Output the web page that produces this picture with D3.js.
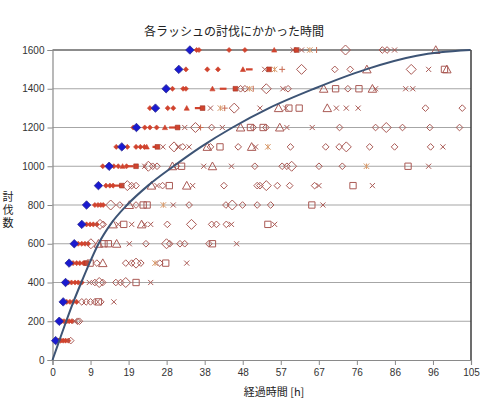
<!DOCTYPE html>
<html><head><meta charset="utf-8">
<script src="https://cdn.jsdelivr.net/npm/d3@7"></script>
<style>body{margin:0;background:#fff}svg{display:block}</style>
</head><body><svg id="c" width="480" height="407"></svg>
<script>
// ---------- data ----------
const chartTitle = "各ラッシュの討伐にかかった時間";
const xTitle = "経過時間 [h]";
const yTitle = "討伐数";
const xMax = 105.7;
const xTickLabels = ["0","9","19","28","38","48","57","67","76","86","96","105"];
const yTicks = [0,200,400,600,800,1000,1200,1400,1600];

const levels = [1600,1500,1400,1300,1200,1100,1000,900,800,700,600,500,400,300,200,100];
const hours1600 = [34.7,36.4,37.0,44.6,48.6,56.0,60.8,61.6,62.9,65.0,66.7,74.0,83.3,84.5,86.4,96.8];
const marks1600 = "Bddddtxsx*|DooxT";
const hours1500 = [31.9,33.7,39.1,41.8,48.1,49.7,53.6,54.7,56.1,58.0,62.9,71.3,75.2,79.4,90.6,95.0,99.0,99.6];
const marks1500 = "Bdddtmxs*+DooTDxST";
const hours1400 = [28.7,30.3,33.0,33.7,40.4,43.1,46.2,47.5,48.6,49.8,50.7,54.0,58.2,59.5,68.5,71.5,74.6,77.4,80.8,81.6,89.2,91.0];
const marks1400 = "Bdddtmsoo*|DxoTSoSTxxx";
const hours1300 = [24.6,26.0,29.1,30.5,33.9,36.8,37.9,39.9,42.4,43.5,45.9,52.4,57.1,58.9,59.7,62.3,69.4,71.7,74.2,77.2,94.2,103.5];
const marks1300 = "dBddtmsx*+DxTxSSTxxxoo";
const hours1200 = [20.4,21.2,23.3,24.6,26.3,28.4,30.3,31.6,33.4,36.1,37.4,40.2,42.9,47.5,50.0,50.7,53.2,53.9,57.4,59.2,65.6,72.5,81.6,84.3,88.4,95.3,102.8];
const marks1200 = "dBdddtmsxD+oxTSoSoTxxooDooo";
const hours1100 = [16.1,17.5,18.9,21.1,22.2,23.2,23.8,26.1,26.5,27.9,30.7,31.7,32.9,34.5,39.1,39.9,42.3,46.9,50.3,51.3,54.4,60.1,69.0,72.4,74.2,80.1,86.4,95.5,98.6];
const marks1100 = "dBddddtmsxDxoxToSoTx*oooDooox";
const hours1000 = [12.7,14.3,15.5,16.6,17.7,18.7,19.6,21.1,23.3,24.2,25.3,26.4,30.3,31.3,32.6,38.2,40.4,45.2,51.1,58.0,59.2,60.4,67.3,73.2,79.3,89.8,95.0];
const marks1000 = "dBddtdmsxDooToSxTxoooDoo*Sx";
const hours900 = [11.6,13.5,14.5,15.3,16.6,17.5,18.9,20.0,21.1,25.0,26.4,27.8,29.5,33.9,35.4,43.3,51.7,52.4,54.0,56.8,59.9,66.2,67.3,75.9,80.8];
const marks900 = "BdddmsDooTxoSTxoooDoooxSx";
const hours800 = [8.6,10.7,11.5,12.2,12.8,14.7,17.0,19.4,21.1,22.9,23.9,28.0,30.5,34.5,43.8,45.4,48.0,51.7,55.1,65.5,68.3];
const marks800 = "BddddDoToSS*xooDoooSx";
const hours700 = [7.4,8.6,9.5,10.3,11.2,12.0,12.8,15.3,16.6,18.0,20.0,22.5,23.3,24.8,29.0,35.1,40.2,41.4,43.9,45.2,54.4,56.1];
const marks700 = "BddddDoTxSxTxxoDoooxSx";
const hours600 = [5.5,6.5,7.4,8.2,9.0,9.7,11.6,13.0,14.1,16.2,19.4,23.6,28.8,29.6,32.2,33.4,39.5,40.4,46.5];
const marks600 = "BddddDTSSTxoDooooSx";
const hours500 = [4.2,5.2,6.1,6.9,7.8,8.2,8.6,9.5,11.2,12.7,18.5,20.0,21.1,22.3,25.9,27.1,28.6,33.9];
const marks500 = "BdddddsSoTooDo*oSx";
const hours400 = [3.3,4.0,4.8,5.7,6.5,7.4,9.3,10.7,11.8,12.7,16.0,17.2,18.5,21.1,24.8];
const marks400 = "BdddddxoDoooDSx";
const hours300 = [2.7,3.6,4.4,5.2,6.1,7.4,8.5,9.6,10.7,11.6,12.2,15.5];
const marks300 = "BddddooooSox";
const hours200 = [1.7,2.3,2.9,3.6,4.2,4.9,5.7,6.3,6.8];
const marks200 = "Bdddddxoo";
const hours100 = [0.8,1.5,2.1,2.7,3.3,4.0,4.6];
const marks100 = "Bdddddo";

// reference curve
const curveHours = [0,1.72,3.46,5.28,7.27,9.35,11.62,14.65,18.82,24.12,30.56,37.51,45.46,54.68,66.05,79.18,92.0,97.9,105.5];
const curveKills = [0,100,200,300,400,500,600,700,800,900,1000,1100,1200,1300,1400,1500,1570,1588,1600];

// ---------- build ----------
const rowHours = [hours1600,hours1500,hours1400,hours1300,hours1200,hours1100,hours1000,hours900,hours800,hours700,hours600,hours500,hours400,hours300,hours200,hours100];
const rowMarks = [marks1600,marks1500,marks1400,marks1300,marks1200,marks1100,marks1000,marks900,marks800,marks700,marks600,marks500,marks400,marks300,marks200,marks100];
const points = [];
levels.forEach((lv,i)=>rowHours[i].forEach((h,j)=>points.push({x:h,y:lv,m:rowMarks[i][j]})));

const L=52.5, R=471, T=50, B=360;
const svg = d3.select("#c");
const x = d3.scaleLinear().domain([0,xMax]).range([L,R]);
const y = d3.scaleLinear().domain([0,1600]).range([B,T]);

// gridlines
svg.append("g").selectAll("line").data(yTicks.filter(d=>d>0)).join("line")
  .attr("x1",L).attr("x2",R).attr("y1",d=>y(d)).attr("y2",d=>y(d))
  .attr("stroke", d=>d===1600?"#8c8c8c":"#a6a6a6").attr("stroke-width",d=>d===1600?2:1.2);
// right border
svg.append("line").attr("x1",R).attr("x2",R).attr("y1",T).attr("y2",B)
  .attr("stroke","#3c3c3c").attr("stroke-width",1.5);

// axes
const xTickVals = xTickLabels.map((_,i)=>i*xMax/11);
const xAxis = d3.axisBottom(x).tickValues(xTickVals).tickSize(5).tickPadding(4)
  .tickFormat((d,i)=>xTickLabels[i]);
const gx = svg.append("g").attr("transform",`translate(0,${B})`).call(xAxis);
const yAxis = d3.axisLeft(y).tickValues(yTicks).tickSize(5).tickPadding(3).tickFormat(d3.format("d"));
const gy = svg.append("g").attr("transform",`translate(${L},0)`).call(yAxis);
[gx,gy].forEach(g=>{
  g.select(".domain").attr("stroke","#8a8a8a").attr("stroke-width",1.2);
  g.selectAll(".tick line").attr("stroke","#8a8a8a");
  g.selectAll("text").attr("fill","#333").style("font-family","Liberation Sans, Arial, sans-serif").style("font-size","10px");
});

// markers
const red="#d0432e", hol="#aa5a55";
const diamondType = {draw(ctx,size){const r=Math.sqrt(size)/2*Math.SQRT2; ctx.moveTo(0,-r);ctx.lineTo(r,0);ctx.lineTo(0,r);ctx.lineTo(-r,0);ctx.closePath();}};
const triType = {draw(ctx,size){const s=Math.sqrt(size); ctx.moveTo(0,-s*0.55);ctx.lineTo(s*0.55,s*0.45);ctx.lineTo(-s*0.55,s*0.45);ctx.closePath();}};
const xType = {draw(ctx,size){const r=Math.sqrt(size)/2; ctx.moveTo(-r,-r);ctx.lineTo(r,r);ctx.moveTo(r,-r);ctx.lineTo(-r,r);}};
const plusType = {draw(ctx,size){const r=Math.sqrt(size)/2; ctx.moveTo(0,-r);ctx.lineTo(0,r);ctx.moveTo(-r,0);ctx.lineTo(r,0);}};
const starType = {draw(ctx,size){const r=Math.sqrt(size)/2; ctx.moveTo(-r,-r);ctx.lineTo(r,r);ctx.moveTo(r,-r);ctx.lineTo(-r,r);ctx.moveTo(0,-r);ctx.lineTo(0,r);}};
const dashType = {draw(ctx,size){const r=Math.sqrt(size)/2; ctx.moveTo(-r,0);ctx.lineTo(r,0);}};
const barType = {draw(ctx,size){const r=Math.sqrt(size)/2; ctx.moveTo(0,-r);ctx.lineTo(0,r);}};
const style = {
  B:{t:diamondType,s:36,fill:"#1a1ad0",stroke:"#2a2a90",w:0.8},
  d:{t:diamondType,s:13,fill:red,stroke:red,w:0.6},
  t:{t:triType,s:22,fill:red,stroke:red,w:0.6},
  m:{t:dashType,s:45,fill:"none",stroke:red,w:2.2},
  s:{t:d3.symbolSquare,s:22,fill:red,stroke:"#a03020",w:0.6},
  x:{t:xType,s:26,fill:"none",stroke:hol,w:1},
  "*":{t:starType,s:30,fill:"none",stroke:"#d89a6a",w:1},
  "+":{t:plusType,s:36,fill:"none",stroke:"#c86a50",w:1},
  "|":{t:barType,s:36,fill:"none",stroke:"#c86a50",w:1},
  D:{t:diamondType,s:50,fill:"none",stroke:hol,w:1},
  o:{t:diamondType,s:22,fill:"none",stroke:hol,w:1},
  S:{t:d3.symbolSquare,s:40,fill:"none",stroke:hol,w:1},
  T:{t:triType,s:60,fill:"none",stroke:hol,w:1}
};
const order = p => p.m==="B"?1:0;
svg.append("g").selectAll("path").data(points.slice().sort((a,b)=>order(a)-order(b))).join("path")
  .attr("transform",d=>`translate(${x(d.x)},${y(d.y)})`)
  .attr("d",d=>d3.symbol(style[d.m].t, style[d.m].s)())
  .attr("fill",d=>style[d.m].fill).attr("stroke",d=>style[d.m].stroke).attr("stroke-width",d=>style[d.m].w);

// curve
const curveData = curveHours.map((h,i)=>({x:h,y:curveKills[i]}));
svg.append("path").datum(curveData)
  .attr("d", d3.line().x(d=>x(d.x)).y(d=>y(d.y)).curve(d3.curveMonotoneX))
  .attr("fill","none").attr("stroke","#3d5475").attr("stroke-width",2);

// titles
svg.append("text").attr("x",234).attr("y",36).attr("text-anchor","middle")
  .style("font-family","Noto Sans CJK JP, sans-serif").style("font-size","12px").attr("fill","#222").text(chartTitle);
svg.append("text").attr("x",274).attr("y",396).attr("text-anchor","middle")
  .style("font-family","Noto Sans CJK JP, sans-serif").style("font-size","11px").attr("fill","#222").text(xTitle);
svg.append("text").attr("x",8).attr("y",191)
  .style("font-family","Noto Sans CJK JP, sans-serif").style("font-size","11px")
  .style("writing-mode","vertical-rl").style("text-orientation","upright").style("letter-spacing","2px")
  .attr("fill","#222").text(yTitle);
</script></body></html>
